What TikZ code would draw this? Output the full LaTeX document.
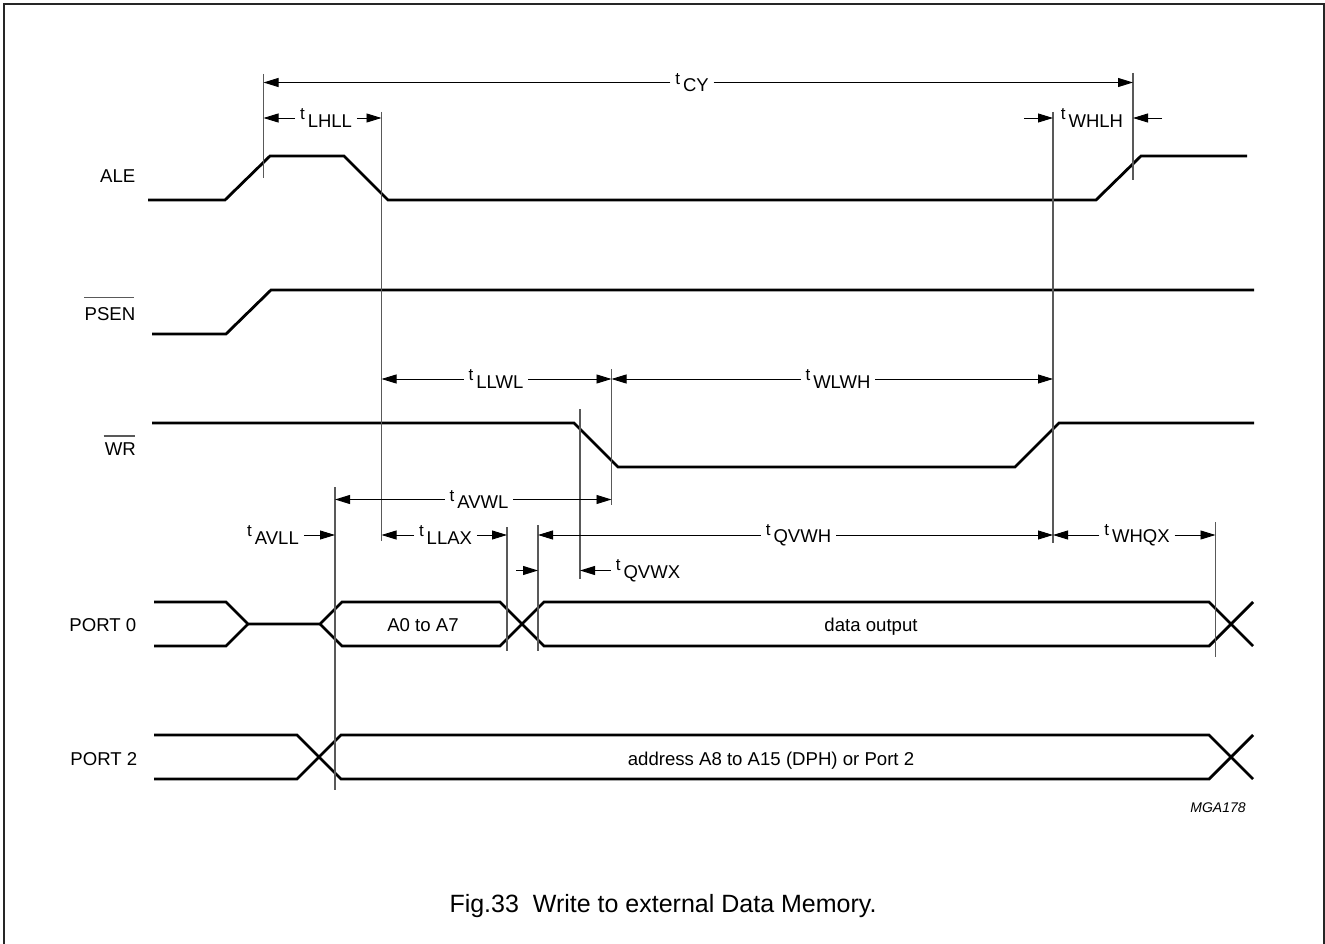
\documentclass[tikz,border=0pt]{standalone}
\usepackage{fontspec}
\setmainfont{Liberation Sans}
\usetikzlibrary{arrows.meta, calc}
\newcommand{\tsub}[1]{{\fontsize{17}{17}\selectfont t}\hspace{3pt}\raisebox{-7.5pt}{#1}}
\begin{document}
\begin{tikzpicture}[
    x=1pt, y=-1pt,
    signal/.style={line width=2.8pt, line join=miter},
    thinline/.style={line width=1.2pt, color=black!65},
    dimarrow/.style={line width=0.9pt, color=black, -{Triangle[length=15pt,width=9pt]}},
    timing/.style={font=\fontsize{18.5}{19}\selectfont, inner sep=0pt, outer sep=5pt},
    pinlabel/.style={font=\fontsize{18.6}{19}\selectfont, inner sep=0pt, anchor=base east},
    bodytext/.style={font=\fontsize{18.6}{19}\selectfont, inner sep=0pt, anchor=base}
]
\useasboundingbox (0,0) rectangle (1325,944);
\draw[line width=1.8pt, color=black!85] (4.2,945) -- (4.2,4) -- (1324.2,4) -- (1324.2,945);

% signal names
\node (ale) [pinlabel] at (135.5,183) {ALE};
\node (psen) [pinlabel] at (135.5,320) {PSEN};
\node (wr) [pinlabel] at (136,455) {WR};
\node (port0) [pinlabel] at (136.5,631) {PORT 0};
\node (port2) [pinlabel] at (137.5,765) {PORT 2};
\draw[thinline] ($(psen.north west)+(0,-9)$) -- ($(psen.north east)+(-2,-9)$);
\draw[thinline] ($(wr.north west)+(-1,-6)$) -- ($(wr.north east)+(-1,-6)$);

% waveforms
\draw[signal] (148,200) -- (225,200) -- (270,156) -- (344,156) -- (388,200) -- (1096,200) -- (1141,156) -- (1247,156);
\draw[signal] (152,334) -- (226,334) -- (271,290) -- (1254,290);
\draw[signal] (152,423) -- (574,423) -- (618,467) -- (1015,467) -- (1059,423) -- (1254,423);
\draw[signal] (154,602) -- (226,602) -- (248,624) -- (320,624) -- (342,602) -- (500,602) -- (544,646) -- (1209,646) -- (1253,602);
\draw[signal] (154,646) -- (226,646) -- (248,624);
\draw[signal] (320,624) -- (342,646) -- (500,646) -- (544,602) -- (1209,602) -- (1253,646);
\draw[signal] (154,735) -- (297,735) -- (341,779) -- (1209,779) -- (1253,735);
\draw[signal] (154,779) -- (297,779) -- (341,735) -- (1209,735) -- (1253,779);

\node (a0a7) [bodytext] at (423,631) {A0 to A7};
\node (dataout) [bodytext] at (871,631) {data output};
\node (addr) [bodytext] at (771,765) {address A8 to A15 (DPH) or Port 2};
\node (mga) [font=\fontsize{14}{14}\selectfont\itshape, inner sep=0pt] at (1218,808) {MGA178};
\node (caption) [font=\fontsize{25}{26}\selectfont, inner sep=0pt, anchor=base] at (663,912.5) {Fig.33\ \ Write to external Data Memory.};

% reference lines
\foreach \name/\xpos/\ytop/\ybot in {lhA/263.5/74/178, llA/381.5/112/541, whA/1053/112/543, cyB/1133/73/180, wlA/611.5/369/505, qvA/580/409/579, avA/335/487/790, laB/507/527/651, qhA/538/525/651, wxB/1215.5/522/657} {
    \coordinate (\name) at (\xpos,\ytop);
    \draw[thinline] (\xpos,\ytop) -- (\xpos,\ybot);
}

% timing labels
\node (tcy) [timing] at (692,82.5) {\tsub{CY}};
\node (tlhll) [timing] at (326,118) {\tsub{LHLL}};
\node (twhlh) [timing] at (1092,118) {\tsub{WHLH}};
\node (tllwl) [timing] at (496,379) {\tsub{LLWL}};
\node (twlwh) [timing] at (838,379) {\tsub{WLWH}};
\node (tavwl) [timing] at (479,499.5) {\tsub{AVWL}};
\node (tavll) [timing] at (273,535) {\tsub{AVLL}};
\node (tllax) [timing] at (445.5,535) {\tsub{LLAX}};
\node (tqvwh) [timing] at (798.5,535) {\tsub{QVWH}};
\node (twhqx) [timing] at (1137,535) {\tsub{WHQX}};
\node (tqvwx) [timing] at (648,570.5) {\tsub{QVWX}};

% dimension arrows
\draw[dimarrow] (tcy.west) -- (tcy.west -| lhA);
\draw[dimarrow] (tcy.east) -- (tcy.east -| cyB);
\draw[dimarrow] (tlhll.west) -- (tlhll.west -| lhA);
\draw[dimarrow] (tlhll.east) -- (tlhll.east -| llA);
\draw[dimarrow] ($(whA)+(-29,6)$) -- (whA |- twhlh);
\draw[dimarrow] ($(cyB)+(29,45)$) -- (cyB |- twhlh);
\draw[dimarrow] (tllwl.west) -- (tllwl.west -| llA);
\draw[dimarrow] (tllwl.east) -- (tllwl.east -| wlA);
\draw[dimarrow] (twlwh.west) -- (twlwh.west -| wlA);
\draw[dimarrow] (twlwh.east) -- (twlwh.east -| whA);
\draw[dimarrow] (tavwl.west) -- (tavwl.west -| avA);
\draw[dimarrow] (tavwl.east) -- (tavwl.east -| wlA);
\draw[dimarrow] (tavll.east) -- (tavll.east -| avA);
\draw[dimarrow] (tllax.west) -- (tllax.west -| llA);
\draw[dimarrow] (tllax.east) -- (tllax.east -| laB);
\draw[dimarrow] (tqvwh.west) -- (tqvwh.west -| qhA);
\draw[dimarrow] (tqvwh.east) -- (tqvwh.east -| whA);
\draw[dimarrow] (twhqx.west) -- (twhqx.west -| whA);
\draw[dimarrow] (twhqx.east) -- (twhqx.east -| wxB);
\draw[dimarrow] (tqvwx.west) -- (tqvwx.west -| qvA);
\coordinate (gapstart) at (516,570.5);
\draw[dimarrow] (gapstart) -- (gapstart -| qhA);
\end{tikzpicture}
\end{document}
